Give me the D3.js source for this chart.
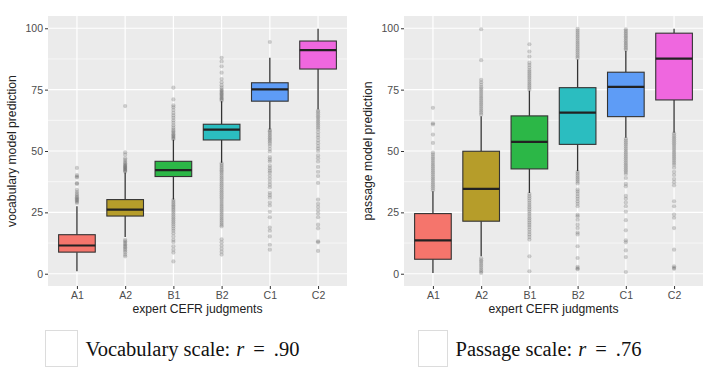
<!DOCTYPE html>
<html>
<head>
<meta charset="utf-8">
<script src="https://cdn.jsdelivr.net/npm/d3@7"></script>
<style>
  body { margin: 0; background: #fff; }
  svg { display: block; }
</style>
</head>
<body>
<div id="chart"></div>
<script>
var width = 720,
    height = 375;

var levels = ["A1", "A2", "B1", "B2", "C1", "C2"];
var fills = ["#f5756c", "#b69d2a", "#2cb747", "#2bbdc0", "#5e9cf6", "#ef67df"];
var yTicks = [0, 25, 50, 75, 100];

// vocabulary model: whisker ends, quartiles, median
var vocabLow  = [1.0, 15.0, 30.2, 45.2, 58.8, 66.9];
var vocabQ1   = [8.8, 23.5, 39.6, 54.5, 70.3, 83.4];
var vocabMed  = [11.5, 26.1, 42.2, 58.7, 75.1, 91.1];
var vocabQ3   = [15.9, 30.2, 45.8, 60.9, 77.8, 94.8];
var vocabHigh = [27.5, 41.2, 54.6, 70.3, 88.0, 99.8];
var vocabOut = [
    [28.8, 29.3, 29.8, 30.2, 30.7, 31.2, 31.8, 32.5, 33.3, 34.2, 36.6, 36.9, 39.2, 39.6, 40.2, 43.1],
    [41.5, 42, 42.3, 42.8, 43.2, 43.6, 44, 44.5, 45, 45.6, 46.3, 47, 48.5, 49.5, 68.3,
     13.8, 13.2, 12.6, 12, 11.4, 10.8, 10.2, 9.5, 8.8, 7.8, 7.1],
    [54.8, 55.3, 55.8, 56.3, 56.8, 57.4, 58, 58.7, 59.5, 60.5, 61.5, 62.5, 63.5, 64.5, 65.5, 66.7, 67.8, 68.6, 71, 75.8,
     30, 29.3, 28.6, 27.9, 27.2, 26.5, 25.8, 25, 24.2, 23.4, 22.6, 21.8, 21, 20.2, 19.3, 18.4, 17.5, 16.5, 15.2, 13.8, 12.9, 11.2, 9.8, 8.6, 5],
    [70.5, 71, 71.5, 72, 72.5, 73, 73.5, 74, 74.5, 75, 75.8, 76.8, 78, 79.3, 81.9, 84.5, 86.5, 88,
     45, 44.3, 43.6, 42.9, 42.2, 41.5, 40.8, 40, 39.2, 38.4, 37.6, 36.8, 36, 35.2, 34.4, 33.6, 32.8, 32, 31.2, 30.4,
     29.6, 28.8, 28, 27.2, 26.4, 25.6, 24.8, 24, 23.2, 22.4, 21.6, 20.8, 20, 19.3, 14, 12.8, 11.5, 10.2, 9, 7.8],
    [94.4,
     58.6, 58, 57.3, 56.6, 55.9, 55.2, 54.5, 53.8, 53, 52, 50.8, 49.8, 47.5, 46.5, 45.7, 44, 43, 42, 41.2, 40,
     38.8, 37.5, 36.3, 35.2, 33, 32, 31, 29, 27.8, 25.2, 23, 18.8, 17.5, 15.2, 11.8, 9.8],
    [66.5, 65.8, 65, 64.2, 63.5, 62.7, 62, 61.2, 60.4, 59.6, 58.8, 57.6, 56.5, 55.5, 54.3, 53.2, 52, 51, 50, 48.2,
     47, 45.7, 43.5, 41.5, 39.8, 37, 30.2, 28.5, 27.2, 25.8, 24.5, 23, 20, 18.5, 13.2, 12.8, 9.3]
];

// passage model
var passLow  = [0.3, 7.1, 32.9, 41.8, 55.4, 57.4];
var passQ1   = [5.9, 21.4, 42.7, 52.7, 64.0, 70.8];
var passMed  = [13.6, 34.6, 53.7, 65.6, 76.1, 87.6];
var passQ3   = [24.5, 49.9, 64.3, 75.8, 82.1, 98.0];
var passHigh = [33.6, 64.2, 74.6, 87.3, 90.8, 99.8];
var passOut = [
    [34, 34.8, 35.6, 36.4, 37.2, 38, 38.8, 39.6, 40.4, 41.2, 42, 42.8, 43.6, 44.4, 45.2, 46, 46.8, 47.6, 48.5, 49.3,
     53.3, 56.7, 60.8, 61.3, 67.6],
    [64.8, 65.6, 66.4, 67.2, 68, 68.8, 69.6, 70.4, 71.2, 72, 72.8, 73.6, 74.4, 75.2, 76, 77, 78, 79, 87, 99.6,
     6.3, 5.5, 4.8, 4, 3.2, 2.4, 1.6, 0.9, 0.3],
    [75, 75.8, 76.6, 77.4, 78.2, 79, 79.8, 80.6, 81.4, 82.2, 83, 84, 85, 86, 88.5, 90.5, 93.5,
     32.5, 31.6, 30.7, 29.8, 28.9, 28, 27.1, 26.2, 25.3, 24.4, 23.5, 22.6, 21.7, 20.8, 19.9, 19, 18, 17, 16, 15, 13.9, 7.1, 1],
    [87.8, 88.6, 89.4, 90.2, 91, 91.8, 92.6, 93.4, 94.2, 95, 95.8, 96.6, 97.4, 98.2, 99, 99.8,
     41.5, 40.8, 40, 39.2, 38.4, 37.6, 36.8, 34.3, 33.5, 32.5, 31.5, 30.5, 29.5, 28.5, 27.5, 24, 23.4, 22, 20,
     18.6, 16.8, 16, 11.2, 6.4, 2.8, 2.2, 1.8],
    [91.2, 91.9, 92.6, 93.3, 94, 94.7, 95.4, 96.1, 96.8, 97.5, 98.2, 98.9, 99.6,
     55, 54.2, 53.4, 52.6, 51.8, 51, 50.2, 49.4, 48.6, 47.8, 47, 46.2, 45.4, 44.6, 43.8, 43, 42.2, 41.4, 40.6, 39,
     36.6, 35.6, 31.7, 30.5, 29, 27.5, 25.3, 21.8, 17.7, 13.6, 12.8, 9.5, 6.8, 0.7],
    [57.2, 56.4, 55.6, 54.8, 54, 53.2, 52.4, 51.6, 50.8, 50, 49.2, 48.4, 47.6, 46.8, 46, 45.2, 44.4, 43.2, 41.5,
     40.2, 38.6, 37.3, 36, 29.5, 27.5, 24.1, 22.8, 18.6, 9.8, 3, 2.4, 2]
];

var svg = d3.select("#chart")
    .append("svg")
    .attr("width", width)
    .attr("height", height);

function panel(opts) {
    var left = opts.left, right = opts.right,
        top = 16, bottom = 286;

    var x = d3.scalePoint().domain(levels).range([left, right]).padding(0.6);
    var y = d3.scaleLinear().domain([-5, 105]).range([bottom, top]);
    var boxW = x.step() * 0.76;

    var g = svg.append("g");

    g.append("rect")
        .attr("x", left).attr("y", top)
        .attr("width", right - left).attr("height", bottom - top)
        .style("fill", "#ebebeb");

    // minor grid
    g.selectAll(".minor")
        .data([12.5, 37.5, 62.5, 87.5])
        .enter().append("line")
        .attr("x1", left).attr("x2", right)
        .attr("y1", function(d) { return y(d); })
        .attr("y2", function(d) { return y(d); })
        .style("stroke", "#fff").style("stroke-width", 0.6);

    // major grid
    g.selectAll(".majorY")
        .data(yTicks)
        .enter().append("line")
        .attr("x1", left).attr("x2", right)
        .attr("y1", function(d) { return y(d); })
        .attr("y2", function(d) { return y(d); })
        .style("stroke", "#fff").style("stroke-width", 1.2);

    g.selectAll(".majorX")
        .data(levels)
        .enter().append("line")
        .attr("x1", function(d) { return x(d); })
        .attr("x2", function(d) { return x(d); })
        .attr("y1", top).attr("y2", bottom)
        .style("stroke", "#fff").style("stroke-width", 1.2);

    levels.forEach(function(lv, i) {
        var cx = x(lv);
        var bg = g.append("g");

        bg.selectAll("circle")
            .data(opts.out[i])
            .enter().append("circle")
            .attr("cx", cx)
            .attr("cy", function(d) { return y(d); })
            .attr("r", 2.1)
            .style("fill", "#222")
            .style("fill-opacity", 0.2);

        bg.append("line")
            .attr("x1", cx).attr("x2", cx)
            .attr("y1", y(opts.high[i])).attr("y2", y(opts.q3[i]))
            .style("stroke", "#333").style("stroke-width", 1.3);
        bg.append("line")
            .attr("x1", cx).attr("x2", cx)
            .attr("y1", y(opts.q1[i])).attr("y2", y(opts.low[i]))
            .style("stroke", "#333").style("stroke-width", 1.3);

        bg.append("rect")
            .attr("x", cx - boxW / 2)
            .attr("y", y(opts.q3[i]))
            .attr("width", boxW)
            .attr("height", y(opts.q1[i]) - y(opts.q3[i]))
            .style("fill", fills[i])
            .style("stroke", "#333")
            .style("stroke-width", 1.1);

        bg.append("line")
            .attr("x1", cx - boxW / 2).attr("x2", cx + boxW / 2)
            .attr("y1", y(opts.med[i])).attr("y2", y(opts.med[i]))
            .style("stroke", "#222").style("stroke-width", 2.2);
    });

    // axes
    var ya = g.append("g")
        .attr("transform", "translate(" + left + ",0)")
        .call(d3.axisLeft(y).tickValues(yTicks).tickSize(3).tickPadding(2));
    var xa = g.append("g")
        .attr("transform", "translate(0," + bottom + ")")
        .call(d3.axisBottom(x).tickSize(3).tickPadding(2.5));
    [ya, xa].forEach(function(a) {
        a.select(".domain").remove();
        a.selectAll(".tick line").style("stroke", "#333");
        a.selectAll("text")
            .style("fill", "#4d4d4d")
            .style("font-family", "'Liberation Sans', Arial, sans-serif")
            .style("font-size", "10.5px");
    });

    g.append("text")
        .attr("x", (left + right) / 2)
        .attr("y", 313)
        .attr("text-anchor", "middle")
        .style("font-family", "'Liberation Sans', Arial, sans-serif")
        .style("font-size", "12.2px")
        .style("fill", "#222")
        .text("expert CEFR judgments");

    g.append("text")
        .attr("transform", "translate(" + (left - 32) + "," + ((top + bottom) / 2) + ") rotate(-90)")
        .attr("text-anchor", "middle")
        .style("font-family", "'Liberation Sans', Arial, sans-serif")
        .style("font-size", "12.2px")
        .style("fill", "#222")
        .text(opts.ytitle);

    // caption below
    svg.append("rect")
        .attr("x", opts.capX).attr("y", 330.5)
        .attr("width", opts.capW).attr("height", 36)
        .style("fill", "#fff")
        .style("stroke", "#dcdcdc");

    var cap = svg.append("text")
        .attr("x", opts.capX + opts.capW + 8)
        .attr("y", 356)
        .style("font-family", "'Liberation Serif', 'Times New Roman', serif")
        .style("font-size", "20.5px")
        .style("fill", "#111");
    cap.append("tspan").text(opts.caption);
    cap.append("tspan").attr("dx", 6).style("font-style", "italic").text("r");
    cap.append("tspan").attr("dx", 9).text("=");
    cap.append("tspan").attr("dx", 9).text(opts.r);
}

panel({
    left: 48, right: 347,
    low: vocabLow, q1: vocabQ1, med: vocabMed, q3: vocabQ3, high: vocabHigh, out: vocabOut,
    ytitle: "vocabulary model prediction",
    capX: 45.5, capW: 32, caption: "Vocabulary scale:", r: ".90"
});

panel({
    left: 404, right: 703,
    low: passLow, q1: passQ1, med: passMed, q3: passQ3, high: passHigh, out: passOut,
    ytitle: "passage model prediction",
    capX: 418.5, capW: 29, caption: "Passage scale:", r: ".76"
});
</script>
</body>
</html>
